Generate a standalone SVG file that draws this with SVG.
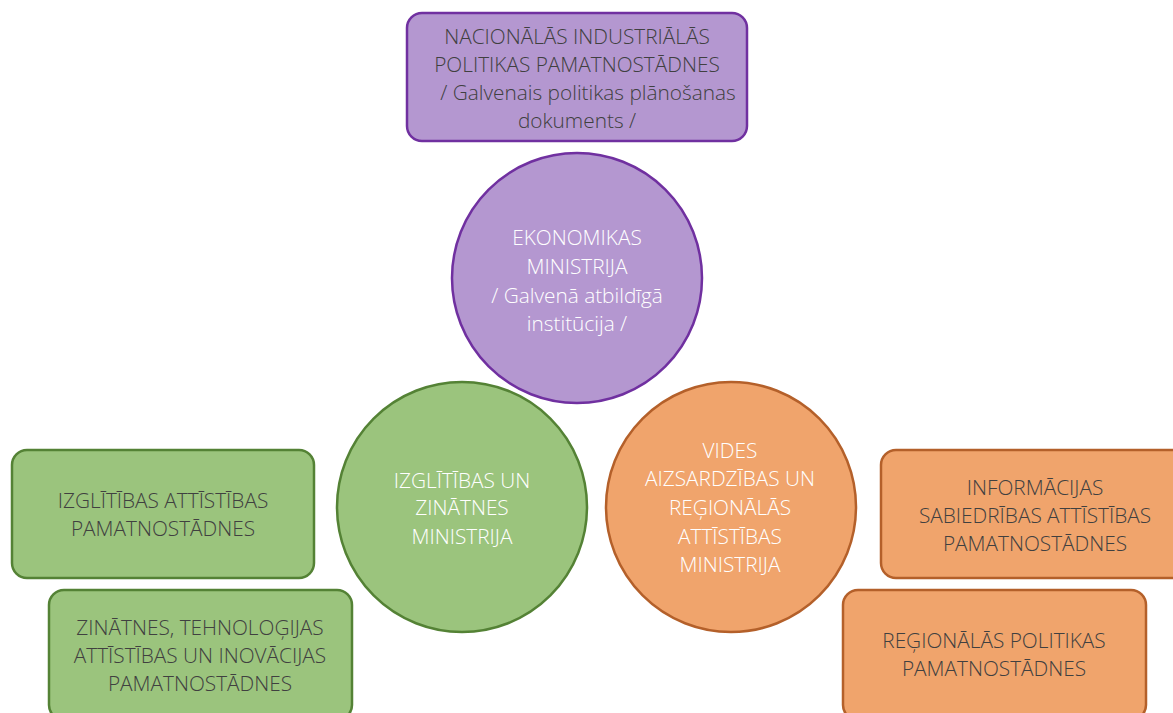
<svg xmlns="http://www.w3.org/2000/svg" width="1173" height="713" viewBox="0 0 1173 713">
<style>
.t{font-family:"Open Sans","Noto Sans","Liberation Sans",sans-serif;font-size:20.8px;font-weight:300;fill:#404040;text-anchor:middle}
.w{fill:#ffffff}
.pu{fill:#b497d0;stroke:#7030a0;stroke-width:2.5}
.gr{fill:#9bc47d;stroke:#548235;stroke-width:2.5}
.or{fill:#f0a46c;stroke:#b4602a;stroke-width:2.5}
</style>
<rect width="1173" height="713" fill="#ffffff"/>
<g id="connectors"/>
<g id="nip">
<rect class="pu" x="407" y="13" width="340" height="128" rx="15"/>
<text class="t" x="577" y="44">NACIONĀLĀS INDUSTRIĀLĀS</text>
<text class="t" x="577" y="72">POLITIKAS PAMATNOSTĀDNES</text>
<text class="t" x="588" y="100">/ Galvenais politikas plānošanas</text>
<text class="t" x="577" y="128">dokuments /</text>
</g>
<g id="em">
<circle class="pu" cx="577" cy="278" r="125"/>
<text class="t w" x="577" y="245">EKONOMIKAS</text>
<text class="t w" x="577" y="274">MINISTRIJA</text>
<text class="t w" x="577" y="303">/ Galvenā atbildīgā</text>
<text class="t w" x="577" y="331">institūcija /</text>
</g>
<g id="izm">
<circle class="gr" cx="462" cy="507" r="125"/>
<text class="t w" x="462" y="488">IZGLĪTĪBAS UN</text>
<text class="t w" x="462" y="515">ZINĀTNES</text>
<text class="t w" x="462" y="544">MINISTRIJA</text>
</g>
<g id="varam">
<circle class="or" cx="731" cy="507" r="125"/>
<text class="t w" x="730" y="458">VIDES</text>
<text class="t w" x="730" y="486">AIZSARDZĪBAS UN</text>
<text class="t w" x="730" y="515">REĢIONĀLĀS</text>
<text class="t w" x="730" y="544">ATTĪSTĪBAS</text>
<text class="t w" x="730" y="572">MINISTRIJA</text>
</g>
<g id="iap">
<rect class="gr" x="12" y="450" width="302" height="128" rx="15"/>
<text class="t" x="163" y="508">IZGLĪTĪBAS ATTĪSTĪBAS</text>
<text class="t" x="163" y="536">PAMATNOSTĀDNES</text>
</g>
<g id="ztap">
<rect class="gr" x="49" y="590" width="303" height="130" rx="15"/>
<text class="t" x="200" y="635">ZINĀTNES, TEHNOLOĢIJAS</text>
<text class="t" x="200" y="663">ATTĪSTĪBAS UN INOVĀCIJAS</text>
<text class="t" x="200" y="691">PAMATNOSTĀDNES</text>
</g>
<g id="isap">
<rect class="or" x="881" y="450" width="310" height="128" rx="15"/>
<text class="t" x="1035" y="495">INFORMĀCIJAS</text>
<text class="t" x="1035" y="523">SABIEDRĪBAS ATTĪSTĪBAS</text>
<text class="t" x="1035" y="551">PAMATNOSTĀDNES</text>
</g>
<g id="rpp">
<rect class="or" x="843" y="590" width="303" height="130" rx="15"/>
<text class="t" x="994" y="648">REĢIONĀLĀS POLITIKAS</text>
<text class="t" x="994" y="676">PAMATNOSTĀDNES</text>
</g>
</svg>
